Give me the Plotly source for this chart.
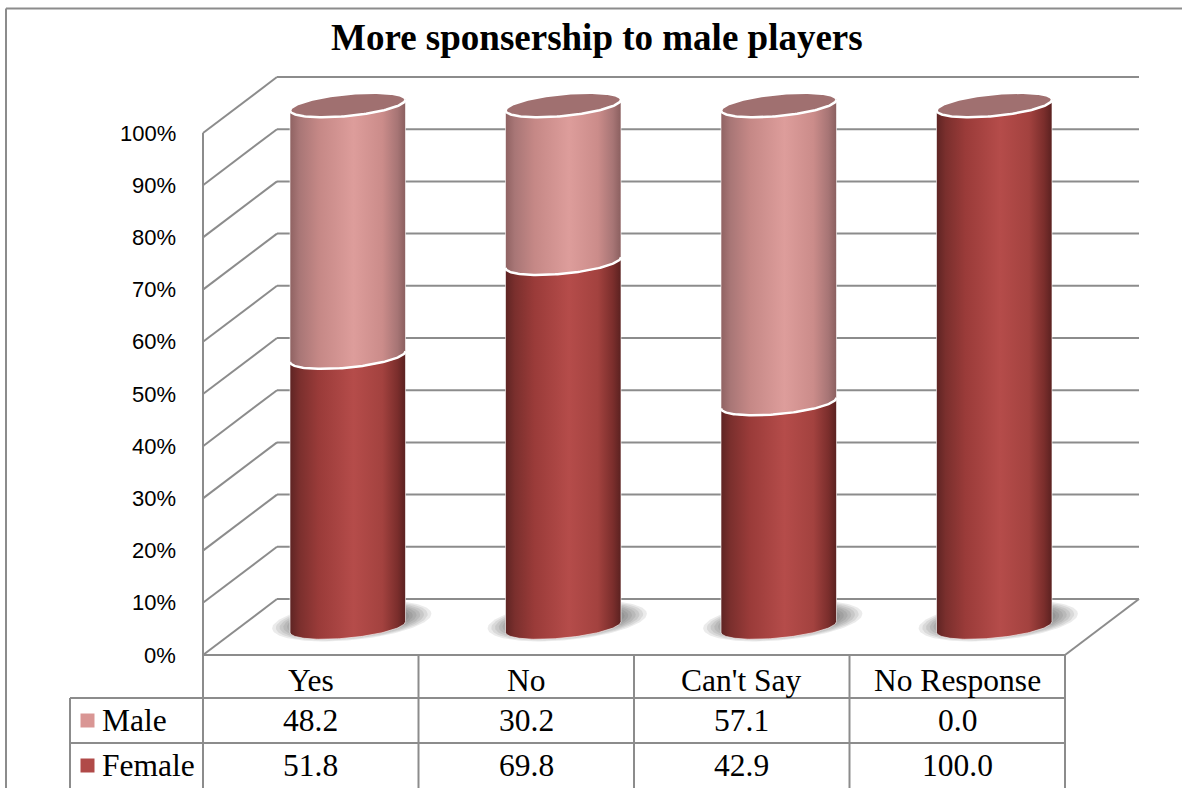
import numpy as np
import plotly.graph_objects as go

# ---- data -------------------------------------------------------------
categories = ["Yes", "No", "Can't Say", "No Response"]
male = [48.2, 30.2, 57.1, 0.0]
female = [51.8, 69.8, 42.9, 100.0]
y_ticks = list(range(0, 101, 10))
y_tick_labels = [f"{t}%" for t in y_ticks]
series_names = ["Male", "Female"]
chart_title = "More sponsership to male players"

# ---- geometry (pixel scale of the data axes) -------------------------
W, H = 1182, 788
X0_PX, Y0_PX = 203, 655          # front-left floor corner
PX_PER_CAT = 215.5               # pixels per category along x
PX_PER_PCT = 5.22                # pixels per percentage point


def dx(px):
    return px / PX_PER_CAT


def dy(px):
    return px / PX_PER_PCT


DX, DY = dx(74), dy(56)          # depth offset of the back wall
N = len(categories)

GRID = "#8c8c8c"
SERIF = "Liberation Serif"
TABLE_FONT = dict(family=SERIF, size=31.5, color="black")

fig = go.Figure()


def line(xs, ys, color=GRID, width=2):
    fig.add_trace(go.Scatter(x=xs, y=ys, mode="lines",
                             line=dict(color=color, width=width),
                             hoverinfo="skip", showlegend=False))


# ---- walls and floor --------------------------------------------------
for t in y_ticks:
    line([DX, N + DX], [t + DY, t + DY])      # back wall gridline
    line([0, DX], [t, t + DY])                # side wall gridline
line([0, 0], [0, 100])
line([N, N + DX], [0, DY])

# ---- data table -------------------------------------------------------
row1 = -dy(43)
row2 = -dy(88)
bottom = -dy(H - Y0_PX)
x_left = dx(70 - X0_PX)
line([0, N], [0, 0])
line([x_left, N], [row1, row1])
line([x_left, N], [row2, row2])
for i in range(N + 1):
    line([i, i], [0, bottom])
line([x_left, x_left], [row1, bottom])

for i, c in enumerate(categories):
    fig.add_annotation(x=i + 0.5, y=(0 + row1) / 2 - dy(4), text=c,
                       showarrow=False, yanchor="middle", font=TABLE_FONT)
    fig.add_annotation(x=i + 0.5, y=(row1 + row2) / 2, text=f"{male[i]:.1f}",
                       showarrow=False, yanchor="middle", font=TABLE_FONT)
    fig.add_annotation(x=i + 0.5, y=(row2 + bottom) / 2, text=f"{female[i]:.1f}",
                       showarrow=False, yanchor="middle", font=TABLE_FONT)

swatch = {"Male": "#D99694", "Female": "#B04A48"}
for name, ymid in zip(series_names, [(row1 + row2) / 2, (row2 + bottom) / 2]):
    fig.add_trace(go.Scatter(x=[dx(87.5 - X0_PX)], y=[ymid], mode="markers",
                             marker=dict(symbol="square", size=14,
                                         color=swatch[name]),
                             hoverinfo="skip", showlegend=False))
    fig.add_annotation(x=dx(100 - X0_PX), y=ymid, text=name, showarrow=False,
                       xanchor="left", yanchor="middle", font=TABLE_FONT)

# ---- y tick labels ----------------------------------------------------
for t, lab in zip(y_ticks, y_tick_labels):
    fig.add_annotation(x=dx(178 - X0_PX), y=t, text=lab, showarrow=False,
                       xanchor="right", yanchor="middle",
                       font=dict(family="Liberation Sans", size=22,
                                 color="black"))

# ---- cylinders --------------------------------------------------------
A_PX, B_PX = 58.0, 11.0          # ellipse semi-axes (pixels)
THETA = np.deg2rad(5.5)          # tilt of the elliptical caps
T0 = np.arctan2(-B_PX * np.sin(THETA), A_PX * np.cos(THETA))


def ellipse(t, a=A_PX, b=B_PX):
    ex = a * np.cos(THETA) * np.cos(t) - b * np.sin(THETA) * np.sin(t)
    ey = a * np.sin(THETA) * np.cos(t) + b * np.cos(THETA) * np.sin(t)
    return dx(ex), dy(ey)


front_t = np.linspace(T0 + np.pi, T0 + 2 * np.pi, 80)
full_t = np.linspace(0, 2 * np.pi, 160)

female_scale = [[0, "#5e2423"], [0.08, "#7a2f2d"], [0.25, "#9a3b39"],
                [0.55, "#b54c4a"], [0.8, "#a3423f"], [0.93, "#7b2e2c"],
                [1, "#5a2120"]]
male_scale = [[0, "#8f6262"], [0.08, "#a87676"], [0.25, "#c58886"],
              [0.55, "#dd9d9b"], [0.8, "#cb8c8a"], [0.93, "#a77575"],
              [1, "#8a5f5f"]]
CAP = "#A07070"

bodies, seams, caps, shadows = [], [], [], []
for i in range(N):
    cx = i + 0.5 + DX / 2
    base = DY / 2
    # soft floor shadow built from stacked translucent ellipses
    for s in np.linspace(1.0, 0.72, 7):
        ex, ey = ellipse(full_t, 80 * s, 19 * s)
        shadows.append(go.Scatter(x=cx + dx(4) + ex, y=base + dy(6) + ey,
                                  mode="lines", fill="toself",
                                  fillcolor="rgba(60,60,60,0.1)",
                                  line=dict(width=0), hoverinfo="skip",
                                  showlegend=False))
    segs = [(0.0, female[i], female_scale),
            (female[i], female[i] + male[i], male_scale)]
    for y0, y1, scale in segs:
        if y1 - y0 <= 0:
            continue
        fx, fy = ellipse(front_t)
        xs = np.concatenate([cx + fx, (cx + fx)[::-1]])
        ys = np.concatenate([base + y0 + fy, (base + y1 + fy)[::-1]])
        xs = np.append(xs, xs[0])
        ys = np.append(ys, ys[0])
        bodies.append(go.Scatter(x=xs, y=ys, mode="lines", fill="toself",
                                 fillgradient=dict(type="horizontal",
                                                   colorscale=scale),
                                 line=dict(color="rgba(255,255,255,0.6)",
                                           width=1),
                                 hoverinfo="skip", showlegend=False))
    if 0 < female[i] < female[i] + male[i]:
        fx, fy = ellipse(front_t)
        seams.append(go.Scatter(x=cx + fx, y=base + female[i] + fy,
                                mode="lines",
                                line=dict(color="white", width=2.5),
                                hoverinfo="skip", showlegend=False))
    top = female[i] + male[i]
    ex, ey = ellipse(full_t)
    caps.append(go.Scatter(x=cx + ex, y=base + top + ey, mode="lines",
                           fill="toself", fillcolor=CAP,
                           line=dict(color="white", width=2.5),
                           hoverinfo="skip", showlegend=False))

for tr in shadows + bodies + seams + caps:
    fig.add_trace(tr)

# ---- frame and title --------------------------------------------------
fig.add_shape(type="line", xref="paper", yref="paper",
              x0=6 / W, x1=1.01, y0=1 - 8.5 / H, y1=1 - 8.5 / H,
              line=dict(color="#8c8c8c", width=2))
fig.add_shape(type="line", xref="paper", yref="paper",
              x0=6 / W, x1=6 / W, y0=1 - 8.5 / H, y1=-0.01,
              line=dict(color="#8c8c8c", width=2))
fig.add_annotation(xref="paper", yref="paper", x=597 / W, y=1 - 38 / H,
                   xanchor="center", yanchor="middle",
                   text=f"<b>{chart_title}</b>", showarrow=False,
                   font=dict(family=SERIF, size=37, color="black"))

fig.update_layout(
    width=W, height=H, autosize=False,
    margin=dict(l=0, r=0, t=0, b=0),
    paper_bgcolor="white", plot_bgcolor="white",
    showlegend=False,
    xaxis=dict(range=[-X0_PX / PX_PER_CAT, (W - X0_PX) / PX_PER_CAT],
               visible=False, fixedrange=True),
    yaxis=dict(range=[-(H - Y0_PX) / PX_PER_PCT, Y0_PX / PX_PER_PCT],
               visible=False, fixedrange=True),
)

fig.write_html("out.html")
